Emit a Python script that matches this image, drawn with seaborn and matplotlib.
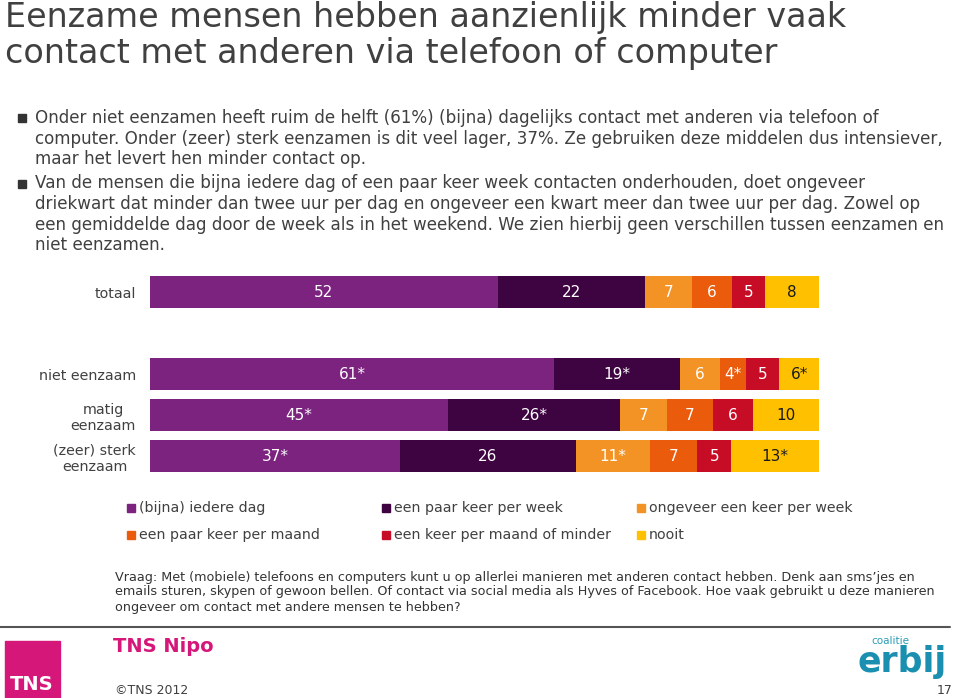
import pandas as pd
import seaborn as sns
import matplotlib.pyplot as plt
from matplotlib.patches import Rectangle

W, H = 960, 698

groepen = ["totaal", "niet eenzaam", "matig\neenzaam", "(zeer) sterk\neenzaam"]
order = ["totaal", " ", "niet eenzaam", "matig\neenzaam", "(zeer) sterk\neenzaam"]

categorieen = ["(bijna) iedere dag", "een paar keer per week", "ongeveer een keer per week",
               "een paar keer per maand", "een keer per maand of minder", "nooit"]
kleuren = ["#7B237F", "#3E0441", "#F39325", "#EA5B0C", "#C70D26", "#FFC000"]

waarden = {
    "totaal":                [52, 22, 7, 6, 5, 8],
    "niet eenzaam":          [61, 19, 6, 4, 5, 6],
    "matig\neenzaam":        [45, 26, 7, 7, 6, 10],
    "(zeer) sterk\neenzaam": [37, 26, 11, 7, 5, 13],
}
labels = {
    "totaal":                ["52", "22", "7", "6", "5", "8"],
    "niet eenzaam":          ["61*", "19*", "6", "4*", "5", "6*"],
    "matig\neenzaam":        ["45*", "26*", "7", "7", "6", "10"],
    "(zeer) sterk\neenzaam": ["37*", "26", "11*", "7", "5", "13*"],
}

titel = "Eenzame mensen hebben aanzienlijk minder vaak\ncontact met anderen via telefoon of computer"
bullet1 = ["Onder niet eenzamen heeft ruim de helft (61%) (bijna) dagelijks contact met anderen via telefoon of",
           "computer. Onder (zeer) sterk eenzamen is dit veel lager, 37%. Ze gebruiken deze middelen dus intensiever,",
           "maar het levert hen minder contact op."]
bullet2 = ["Van de mensen die bijna iedere dag of een paar keer week contacten onderhouden, doet ongeveer",
           "driekwart dat minder dan twee uur per dag en ongeveer een kwart meer dan twee uur per dag. Zowel op",
           "een gemiddelde dag door de week als in het weekend. We zien hierbij geen verschillen tussen eenzamen en",
           "niet eenzamen."]
vraag = ["Vraag: Met (mobiele) telefoons en computers kunt u op allerlei manieren met anderen contact hebben. Denk aan sms\u2019jes en",
         "emails sturen, skypen of gewoon bellen. Of contact via social media als Hyves of Facebook. Hoe vaak gebruikt u deze manieren",
         "ongeveer om contact met andere mensen te hebben?"]

# long table with cumulative shares (rows rescaled to 100)
rows = []
for g in groepen:
    tot = sum(waarden[g])
    cum = 0
    for cat, v, lab in zip(categorieen, waarden[g], labels[g]):
        share = v / tot * 100
        rows.append({"groep": g, "cat": cat, "start": cum, "share": share,
                     "cum": cum + share, "label": lab})
        cum += share
df = pd.DataFrame(rows)

sns.set_theme(style="white")
plt.rcParams["font.family"] = ["DejaVu Sans"]
grey = "#404040"

fig = plt.figure(figsize=(W / 100, H / 100), dpi=100)


def fx(x):
    return x / W


def fy(y):
    return 1 - y / H


ax = fig.add_axes([fx(150), fy(476.5), fx(669), 205 / H])

# stack by overdrawing cumulative bars, widest first
for cat, kleur in reversed(list(zip(categorieen, kleuren))):
    sub = df[df["cat"] == cat]
    sns.barplot(data=sub, y="groep", x="cum", order=order, color=kleur,
                saturation=1, width=0.8, orient="h", ax=ax, linewidth=0)

for _, r in df.iterrows():
    tc = "#1a1a1a" if r["cat"] == "nooit" else "white"
    ax.text(r["start"] + r["share"] / 2, order.index(r["groep"]), r["label"],
            ha="center", va="center", color=tc, fontsize=11)

ax.set_xlim(0, 100)
ax.set_ylim(4.5, -0.5)
ax.set_xlabel("")
ax.set_ylabel("")
ax.set_xticks([])
ax.tick_params(axis="y", length=0, pad=10, labelsize=10.3, labelcolor=grey)
for t in ax.get_yticklabels():
    t.set_multialignment("center")
sns.despine(ax=ax, left=True, bottom=True)

# title and bullets
fig.text(fx(5), fy(1), titel, fontsize=24, color=grey, va="top", ha="left", linespacing=1.1)

y = 118
for blok in (bullet1, bullet2):
    fig.patches.append(Rectangle((fx(18), fy(y + 4)), 8 / W, 8 / H, color="#333333",
                                 transform=fig.transFigure, figure=fig))
    for line in blok:
        fig.text(fx(35), fy(y), line, fontsize=12.1, color=grey, va="center", ha="left")
        y += 20.5
    y += 4

# legend
for i, (cat, kleur) in enumerate(zip(categorieen, kleuren)):
    lx = 127 + 255 * (i % 3)
    ly = 508 + 27 * (i // 3)
    fig.patches.append(Rectangle((fx(lx), fy(ly + 4)), 8 / W, 8 / H, color=kleur,
                                 transform=fig.transFigure, figure=fig))
    fig.text(fx(lx + 12), fy(ly), cat, fontsize=10.2, color=grey, va="center", ha="left")

# question
for i, line in enumerate(vraag):
    fig.text(fx(115), fy(577 + 15 * i), line, fontsize=9.15, color="#333333", va="center", ha="left")

# footer
fig.add_artist(plt.Line2D([0, fx(950)], [fy(627), fy(627)], color="#555555", lw=1.5,
                          transform=fig.transFigure))
fig.patches.append(Rectangle((fx(5), 0), 55 / W, 57 / H, color="#D6177A",
                             transform=fig.transFigure, figure=fig))
fig.text(fx(32), fy(684), "TNS", fontsize=14, color="white", fontweight="bold",
         ha="center", va="center")
fig.text(fx(113), fy(647), "TNS Nipo", fontsize=14, color="#D6177A", fontweight="bold",
         ha="left", va="center")
fig.text(fx(115), fy(691), "\u00a9TNS 2012", fontsize=9, color=grey, ha="left", va="center")
fig.text(fx(945), fy(691), "17", fontsize=9, color=grey, ha="center", va="center")
fig.text(fx(890), fy(641), "coalitie", fontsize=7.5, color="#2A9BB7", ha="center", va="center")
fig.text(fx(902), fy(662), "erbij", fontsize=25, color="#1B8FB0", fontweight="bold",
         ha="center", va="center")

fig.savefig("out.png", dpi=100)
